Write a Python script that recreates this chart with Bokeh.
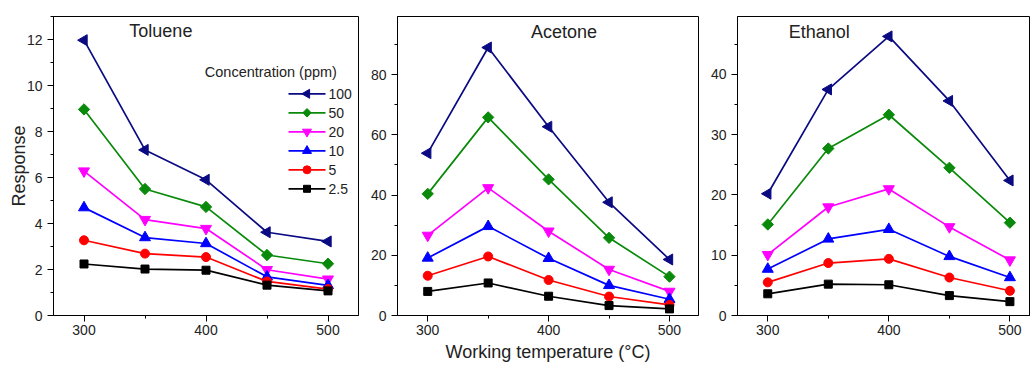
import numpy as np
from bokeh.plotting import figure
from bokeh.models import FixedTicker, Label, Range1d
from bokeh.core.properties import value
from bokeh.layouts import row
from bokeh.embed import file_html
from bokeh.resources import INLINE

temps = [300, 350, 400, 450, 500]
concentrations = ["100", "50", "20", "10", "5", "2.5"]

toluene_100 = [11.97, 7.2, 5.9, 3.62, 3.22]
toluene_50 = [8.96, 5.5, 4.72, 2.63, 2.25]
toluene_20 = [6.28, 4.17, 3.78, 1.99, 1.58]
toluene_10 = [4.69, 3.39, 3.13, 1.68, 1.31]
toluene_5 = [3.27, 2.69, 2.54, 1.48, 1.15]
toluene_2_5 = [2.24, 2.02, 1.97, 1.32, 1.07]

acetone_100 = [53.9, 89.0, 62.7, 37.6, 18.6]
acetone_50 = [40.4, 65.8, 45.2, 25.8, 12.9]
acetone_20 = [26.6, 42.4, 28.0, 15.3, 8.0]
acetone_10 = [19.1, 29.6, 19.0, 10.0, 5.4]
acetone_5 = [13.2, 19.6, 11.8, 6.3, 3.5]
acetone_2_5 = [8.0, 10.8, 6.4, 3.3, 2.2]

ethanol_100 = [20.2, 37.5, 46.3, 35.6, 22.4]
ethanol_50 = [15.1, 27.7, 33.3, 24.5, 15.4]
ethanol_20 = [10.1, 18.0, 21.0, 14.7, 9.2]
ethanol_10 = [7.7, 12.7, 14.3, 9.8, 6.3]
ethanol_5 = [5.5, 8.7, 9.4, 6.3, 4.1]
ethanol_2_5 = [3.6, 5.2, 5.1, 3.3, 2.3]

x_ticks = [300, 400, 500]
x_minor = [350, 450]

colors = ["#0a0a82", "#0a8a0a", "#ff00ff", "#0000ff", "#ff0000", "#000000"]
markers = ["triangle", "square", "inverted_triangle", "triangle", "circle", "square"]
angles = [np.pi / 2, np.pi / 4, 0, 0, 0, 0]
sizes = [11, 8, 11, 11, 9, 8]
legend_sizes = [9, 6, 9, 9, 8, 7]

FONT = "Liberation Sans"
TXT = "#222222"
HEIGHT = 367
TOP = 16
BOTTOM = 52


def make_fig(width, left, right, x_end, y_end, yticks, yminor):
    p = figure(width=width, height=HEIGHT, x_range=Range1d(275, x_end), y_range=Range1d(0, y_end),
               output_backend="svg", toolbar_location=None,
               min_border_left=left, min_border_right=right, min_border_top=TOP, min_border_bottom=BOTTOM)
    p.xgrid.visible = False
    p.ygrid.visible = False
    p.outline_line_color = "black"
    p.outline_line_width = 1
    p.outline_line_alpha = 1
    p.xaxis.ticker = FixedTicker(ticks=x_ticks, minor_ticks=x_minor)
    p.yaxis.ticker = FixedTicker(ticks=yticks, minor_ticks=yminor)
    for ax in (p.xaxis, p.yaxis):
        ax.axis_line_color = "black"
        ax.major_tick_line_color = "black"
        ax.minor_tick_line_color = "black"
        ax.major_tick_in = 0
        ax.major_tick_out = 6
        ax.minor_tick_in = 0
        ax.minor_tick_out = 3
        ax.major_label_text_font = FONT
        ax.major_label_text_font_size = "14px"
        ax.major_label_text_color = TXT
        ax.axis_label_text_font = FONT
        ax.axis_label_text_font_size = "18px"
        ax.axis_label_text_font_style = "normal"
        ax.axis_label_text_color = TXT
    p.xaxis.major_label_standoff = 3
    return p


def add_series(p, series):
    for ys, c, m, a, s in zip(series, colors, markers, angles, sizes):
        p.line(temps, ys, line_color=c, line_width=1.7)
        p.scatter(temps, ys, marker=m, angle=a, size=s, fill_color=c, line_color=c)


tol = [toluene_100, toluene_50, toluene_20, toluene_10, toluene_5, toluene_2_5]
ace = [acetone_100, acetone_50, acetone_20, acetone_10, acetone_5, acetone_2_5]
eth = [ethanol_100, ethanol_50, ethanol_20, ethanol_10, ethanol_5, ethanol_2_5]

# --- Toluene panel ---
W1, L1, R1, XE1, YE1 = 367, 53, 9, 525, 13.0
p1 = make_fig(W1, L1, R1, XE1, YE1, list(range(0, 13, 2)), list(range(1, 14, 2)))
p1.yaxis.axis_label = "Response"
p1.yaxis.axis_label_standoff = -5
add_series(p1, tol)
p1.add_layout(Label(x=363, y=12.35, text="Toluene", text_font=FONT, text_font_size="18px",
                    text_align="center", text_baseline="middle", text_color=TXT))
p1.add_layout(Label(x=399, y=10.57, text="Concentration (ppm)", text_font=FONT, text_font_size="14.5px",
                    text_align="left", text_baseline="middle", text_color=TXT))

# legend keys (left-pointing triangle needs a rotated marker, so keys are drawn by hand)
fw1 = W1 - L1 - R1
fh1 = HEIGHT - TOP - BOTTOM
def sx1(px):
    return 275 + (px - L1) * (XE1 - 275) / fw1
def sy1(py):
    return YE1 - (py - TOP) * YE1 / fh1

key_x0, key_x1, key_text = 288, 325, 328
key_rows = [93.3 + 19.0 * i for i in range(len(concentrations))]
for i, (c, m, a, s, lab) in enumerate(zip(colors, markers, angles, legend_sizes, concentrations)):
    yy = sy1(key_rows[i])
    p1.segment(x0=[sx1(key_x0)], y0=[yy], x1=[sx1(key_x1)], y1=[yy], line_color=c, line_width=1.7)
    p1.scatter(x=[sx1((key_x0 + key_x1) / 2)], y=[yy], marker=m, angle=a, size=s, fill_color=c, line_color=c)
    p1.text(x=[sx1(key_text)], y=[yy], text=[lab], text_font=value(FONT), text_font_size="14px",
            text_align="left", text_baseline="middle", text_color=TXT)

# --- Acetone panel ---
p2 = make_fig(340, 27, 9, 524, 99.3, list(range(0, 81, 20)), list(range(10, 100, 20)))
p2.xaxis.axis_label = "Working temperature (°C)"
p2.xaxis.axis_label_standoff = 4
add_series(p2, ace)
p2.add_layout(Label(x=412.7, y=94.3, text="Acetone", text_font=FONT, text_font_size="18px",
                    text_align="center", text_baseline="middle", text_color=TXT))

# --- Ethanol panel ---
p3 = make_fig(323, 28, 0, 517, 49.6, list(range(0, 41, 10)), list(range(5, 50, 10)))
add_series(p3, eth)
p3.add_layout(Label(x=342.6, y=47.1, text="Ethanol", text_font=FONT, text_font_size="18px",
                    text_align="center", text_baseline="middle", text_color=TXT))

layout = row(p1, p2, p3)
open("out.html", "w").write(file_html(layout, INLINE))
